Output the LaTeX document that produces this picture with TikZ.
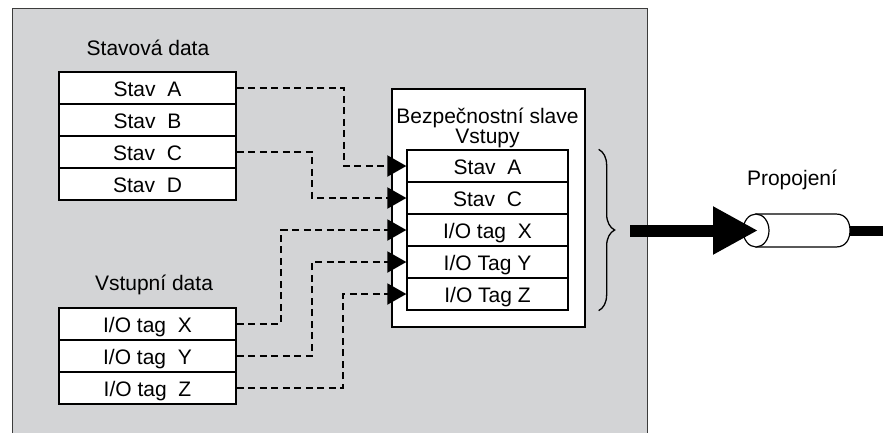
\documentclass[tikz,border=0pt]{standalone}
\usepackage{fontspec}
\setmainfont{Liberation Sans}
\usetikzlibrary{arrows.meta,decorations.pathreplacing}
\definecolor{panel}{RGB}{211,212,214}
\definecolor{panelline}{RGB}{60,60,60}
\begin{document}
\begin{tikzpicture}[x=1pt,y=-1pt,
  every node/.style={font=\fontsize{21}{24}\selectfont},
  cell/.style={draw=black, line width=1.6pt, fill=white, minimum width=177pt,
    minimum height=32pt, inner sep=0pt, text height=16pt, text depth=0pt},
  icell/.style={cell, line width=1.3pt, minimum width=161pt, minimum height=32pt},
  conn/.style={line width=2pt, dash pattern=on 7pt off 4.5pt,
    -{Triangle[length=19pt,width=21pt]}},
  label/.style={anchor=base, inner sep=0pt}]
\useasboundingbox (0,0) rectangle (883,432);
\begin{scope}
  \clip (0,0) rectangle (883,432);
  \node[draw=panelline, line width=1.4pt, fill=panel, minimum width=635pt,
        minimum height=450pt, anchor=north west, inner sep=0pt] (panelbox) at (12,8) {};
\end{scope}

% Stavova data
\node[label] (h1) at (148,55) {Stavová data};
\node[cell] (sa) at (147.5,88) {Stav~~A};
\node[cell] (sb) at (147.5,120) {Stav~~B};
\node[cell] (sc) at (147.5,152) {Stav~~C};
\node[cell] (sd) at (147.5,184) {Stav~~D};

% Vstupni data
\node[label] (h2) at (154,290) {Vstupní data};
\node[cell] (tx) at (147.5,324) {I/O tag~~X};
\node[cell] (ty) at (147.5,356) {I/O tag~~Y};
\node[cell] (tz) at (147.5,388) {I/O tag~~Z};

% Slave
\node[draw=black, line width=1.6pt, fill=white, minimum width=193pt,
      minimum height=238pt, anchor=north west, inner sep=0pt] (slave) at (391,88) {};
\node[label] (st1) at (487.5,123) {Bezpečnostní slave};
\node[label] (st2) at (487.5,143) {Vstupy};
\node[icell] (ia) at (487.5,166) {Stav~~A};
\node[icell] (ic) at (487.5,198) {Stav~~C};
\node[icell] (ix) at (487.5,230) {I/O tag~~X};
\node[icell] (iy) at (487.5,262) {I/O Tag Y};
\node[icell] (iz) at (487.5,294) {I/O Tag Z};

% bend columns
\coordinate (ka) at (344,0);
\coordinate (kc) at (312,0);
\coordinate (kx) at (281,0);
\coordinate (ky) at (312,0);
\coordinate (kz) at (343,0);

\draw[conn] (sa.east) -- (sa.east -| ka) |- (ia.west);
\draw[conn] (sc.east) -- (sc.east -| kc) |- (ic.west);
\draw[conn] (tx.east) -- (tx.east -| kx) |- (ix.west);
\draw[conn] (ty.east) -- (ty.east -| ky) |- (iy.west);
\draw[conn] (tz.east) -- (tz.east -| kz) |- (iz.west);

% brace
\draw[line width=1.3pt, decorate, decoration={brace, amplitude=16pt}]
  ([xshift=30pt]ia.north east) -- ([xshift=30pt]iz.south east);

% Propojeni
\node[label] (pl) at (792,185) {Propojení};
\draw[line width=1.2pt, fill=white] (756,214) -- (836,214)
  .. controls (846,214) and (850,222) .. (850,230.5)
  .. controls (850,239) and (846,247) .. (836,247) -- (756,247) -- cycle;
\draw[line width=1.2pt, fill=white] (756,230.5) ellipse [x radius=13, y radius=16.5];
\coordinate (src) at (630,230.5);
\coordinate (tip) at (758,230.5);
\coordinate (linkR) at (850,230.5);
\coordinate (out) at (883,230.5);
\draw[line width=12pt, -{Triangle[length=45pt,width=45pt]}] (src) -- (tip);
\draw[line width=10pt] (linkR) -- (out);
\end{tikzpicture}
\end{document}
